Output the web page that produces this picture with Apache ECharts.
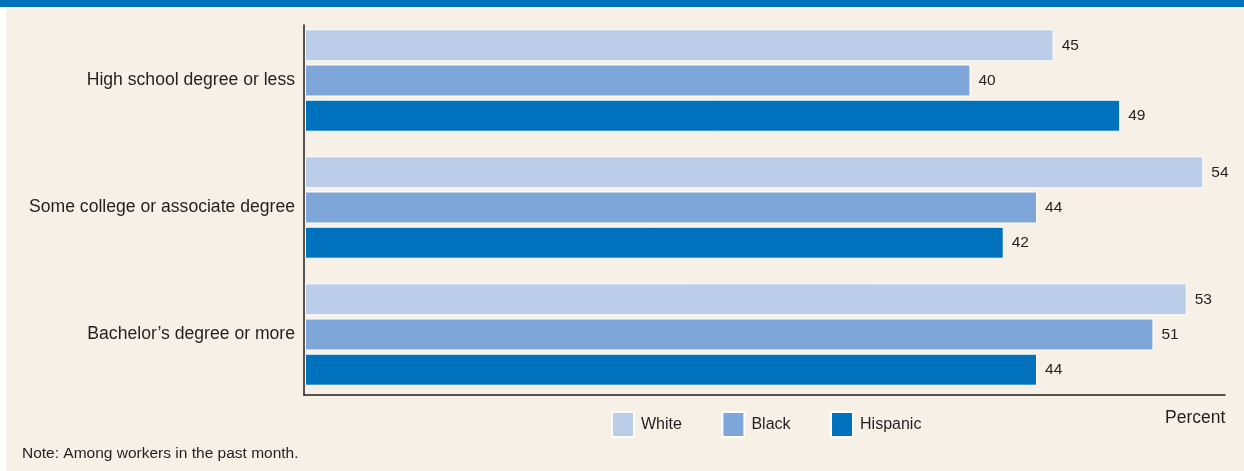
<!DOCTYPE html>
<html>
<head>
<meta charset="utf-8">
<script src="https://cdn.jsdelivr.net/npm/echarts@6/dist/echarts.min.js"></script>
<style>
html,body{margin:0;padding:0;background:#ffffff;}
#chart{width:1244px;height:471px;}
</style>
</head>
<body>
<div id="chart"></div>
<script>
const categories = ['High school degree or less', 'Some college or associate degree', 'Bachelor\u2019s degree or more'];
const seriesNames = ['White', 'Black', 'Hispanic'];
const whiteValues = [45, 54, 53];
const blackValues = [40, 44, 51];
const hispanicValues = [49, 42, 44];
const colors = ['#bccde9', '#7fa6d8', '#0071bc'];
const FONT = '"Liberation Sans", Arial, sans-serif';

const chart = echarts.init(document.getElementById('chart'), null, {renderer: 'canvas'});

function makeSeries(name, values, color) {
  return {
    name: name,
    type: 'bar',
    data: values,
    barWidth: 32,
    barGap: '10%',
    itemStyle: {color: color, borderColor: '#ffffff', borderWidth: 1},
    label: {
      show: true,
      position: 'right',
      distance: 8,
      color: '#231f20',
      fontFamily: FONT,
      fontSize: 15.5
    },
    emphasis: {disabled: true},
    xAxisIndex: 0,
    yAxisIndex: 0
  };
}

chart.setOption({
  animation: false,
  backgroundColor: 'transparent',
  graphic: [
    {type: 'rect', z: -10, shape: {x: 6, y: 0, width: 1238, height: 471}, style: {fill: '#f7f0e6'}},
    {type: 'rect', z: -9, shape: {x: 0, y: 0, width: 1244, height: 7}, style: {fill: '#0070bb'}},
    {type: 'text', left: 1165, top: 409, style: {text: 'Percent', font: '17.5px ' + FONT, fill: '#231f20'}},
    {type: 'text', left: 22, top: 446, style: {text: 'Note: Among workers in the past month.', font: '15.5px ' + FONT, fill: '#231f20'}}
  ],
  legend: {
    left: 606,
    top: 406,
    itemWidth: 22,
    itemHeight: 25,
    itemGap: 39.5,
    icon: 'rect',
    data: seriesNames,
    textStyle: {fontFamily: FONT, fontSize: 16, color: '#231f20', padding: [0, 0, 0, 2]},
    selectedMode: false
  },
  grid: [
    {left: 305, top: 17, width: 920, height: 381, containLabel: false},
    {left: 304, top: 25, width: 921, height: 370, containLabel: false}
  ],
  xAxis: [
    {type: 'value', gridIndex: 0, min: 0, max: 55.3, show: false},
    {type: 'value', gridIndex: 1, min: 0, max: 1,
     axisLine: {show: true, lineStyle: {color: '#231f20', width: 1.5}},
     axisTick: {show: false}, axisLabel: {show: false}, splitLine: {show: false}}
  ],
  yAxis: [
    {type: 'category', gridIndex: 0, data: categories, inverse: true,
     axisLine: {show: false}, axisTick: {show: false},
     axisLabel: {margin: 10, fontFamily: FONT, fontSize: 17.6, color: '#231f20'}},
    {type: 'category', gridIndex: 1, data: [],
     axisLine: {show: true, lineStyle: {color: '#231f20', width: 1.5}},
     axisTick: {show: false}, axisLabel: {show: false}}
  ],
  series: [
    makeSeries(seriesNames[0], whiteValues, colors[0]),
    makeSeries(seriesNames[1], blackValues, colors[1]),
    makeSeries(seriesNames[2], hispanicValues, colors[2])
  ]
});
</script>
</body>
</html>
